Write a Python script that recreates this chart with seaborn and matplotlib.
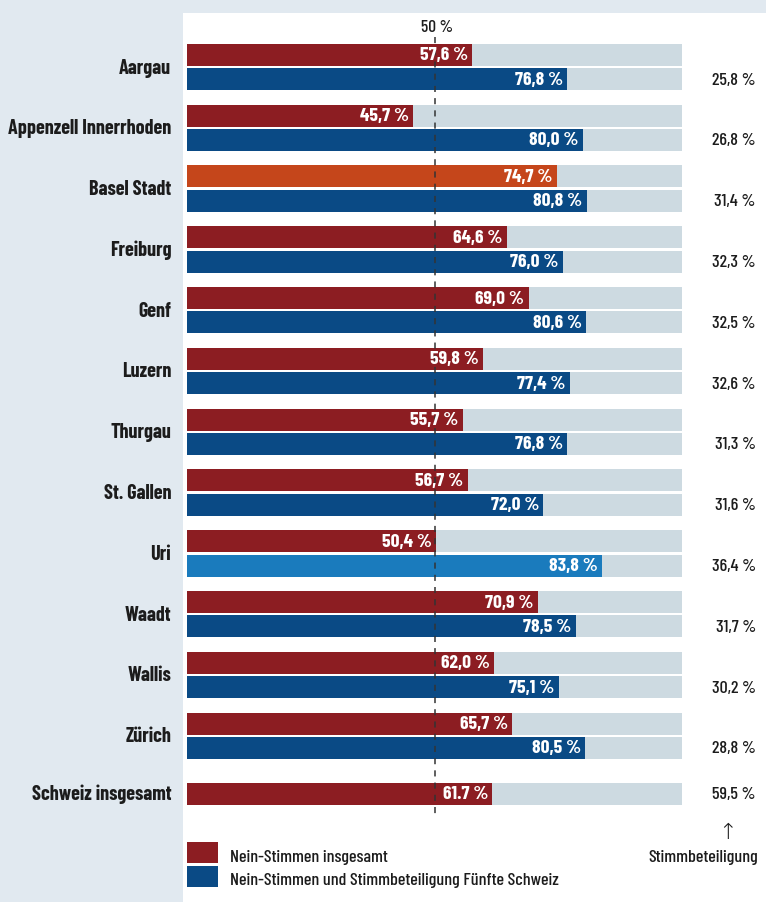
import seaborn as sns
import matplotlib.pyplot as plt
import matplotlib.patches as mpatches

# data
cantons = ['Aargau', 'Appenzell Innerrhoden', 'Basel Stadt', 'Freiburg', 'Genf', 'Luzern',
           'Thurgau', 'St. Gallen', 'Uri', 'Waadt', 'Wallis', 'Zürich']
nein_total = [57.6, 45.7, 74.7, 64.6, 69.0, 59.8, 55.7, 56.7, 50.4, 70.9, 62.0, 65.7]
nein_fuenfte = [76.8, 80.0, 80.8, 76.0, 80.6, 77.4, 76.8, 72.0, 83.8, 78.5, 75.1, 80.5]
beteiligung = [25.8, 26.8, 31.4, 32.3, 32.5, 32.6, 31.3, 31.6, 36.4, 31.7, 30.2, 28.8]
total_label = 'Schweiz insgesamt'
total_nein = 61.7
total_beteiligung = 59.5

sns.set_style('white')
plt.rcParams['font.family'] = ['Barlow Condensed', 'DejaVu Sans']
plt.rcParams['font.weight'] = 500

RED = '#8c1d22'
ORANGE = '#c5461b'
BLUE = '#0a4a85'
LIGHTBLUE = '#1a7bbd'
TRACK = '#cddae1'
BG = '#e1e9f0'
INK = '#1c1c1c'

FS_CAT = 14.5   # canton names
FS_IN = 14      # values inside bars
FS = 13         # other text

def fmt(v):
    return f'{v:.1f} %'.replace('.', ',')

fig = plt.figure(figsize=(7.66, 9.03), dpi=100)
fig.patch.set_facecolor(BG)
ax = fig.add_axes([183 / 766, 0, (766 - 183) / 766, (903 - 14) / 903])
ax.set_facecolor('white')

h = 0.36
off = 0.2
for i, name in enumerate(cantons):
    red = ORANGE if name == 'Basel Stadt' else RED
    blue = LIGHTBLUE if name == 'Uri' else BLUE
    ax.barh(i - off, 100, height=h, color=TRACK, linewidth=0)
    ax.barh(i + off, 100, height=h, color=TRACK, linewidth=0)
    ax.barh(i - off, nein_total[i], height=h, color=red, linewidth=0)
    ax.barh(i + off, nein_fuenfte[i], height=h, color=blue, linewidth=0)
    ax.text(nein_total[i] - 0.9, i - off, fmt(nein_total[i]), ha='right', va='center',
            color='white', fontsize=FS_IN, fontweight='bold', zorder=5)
    ax.text(nein_fuenfte[i] - 0.9, i + off, fmt(nein_fuenfte[i]), ha='right', va='center',
            color='white', fontsize=FS_IN, fontweight='bold', zorder=5)
    ax.text(-3.2, i, name, ha='right', va='center', color=INK, fontsize=FS_CAT,
            fontweight='bold', clip_on=False)
    ax.text(114.9, i + off, fmt(beteiligung[i]), ha='right', va='center',
            color=INK, fontsize=FS)

ys = 11.95
ax.barh(ys, 100, height=h, color=TRACK, linewidth=0)
ax.barh(ys, total_nein, height=h, color=RED, linewidth=0)
ax.text(total_nein - 0.9, ys, f'{total_nein:.1f} %', ha='right', va='center',
        color='white', fontsize=FS_IN, fontweight='bold', zorder=5)
ax.text(-3.2, ys, total_label, ha='right', va='center', color=INK, fontsize=FS_CAT,
        fontweight='bold', clip_on=False)
ax.text(114.9, ys, fmt(total_beteiligung), ha='right', va='center', color=INK, fontsize=FS)

# 50 % reference line
ax.plot([50, 50], [-0.5, 12.35], color='#333333', linestyle=(0, (4, 4)), linewidth=1.1, zorder=4)
ax.text(50.6, -0.67, '50 %', ha='center', va='center', color=INK, fontsize=12.5)

# footnote arrow and legend
ax.text(109.2, 12.58, '↑', ha='center', va='center', color=INK, fontsize=16,
        family='DejaVu Sans', fontweight='light')
ax.text(104.2, 12.99, 'Stimmbeteiligung', ha='center', va='center', color=INK, fontsize=FS)
ax.add_patch(mpatches.Rectangle((0, 12.75), 6.3, 0.35, color=RED, linewidth=0))
ax.add_patch(mpatches.Rectangle((0, 13.14), 6.3, 0.35, color=BLUE, linewidth=0))
ax.text(8.7, 12.98, 'Nein-Stimmen insgesamt', ha='left', va='center', color=INK, fontsize=FS)
ax.text(8.7, 13.37, 'Nein-Stimmen und Stimmbeteiligung Fünfte Schweiz', ha='left',
        va='center', color=INK, fontsize=FS)

ax.set_xlim(-0.81, 116.97)
ax.set_ylim((903 - 68) / 60.8, (14 - 68) / 60.8)
ax.set_xticks([])
ax.set_yticks([])
for s in ax.spines.values():
    s.set_visible(False)

fig.savefig('out.png', dpi=100, facecolor=BG)
